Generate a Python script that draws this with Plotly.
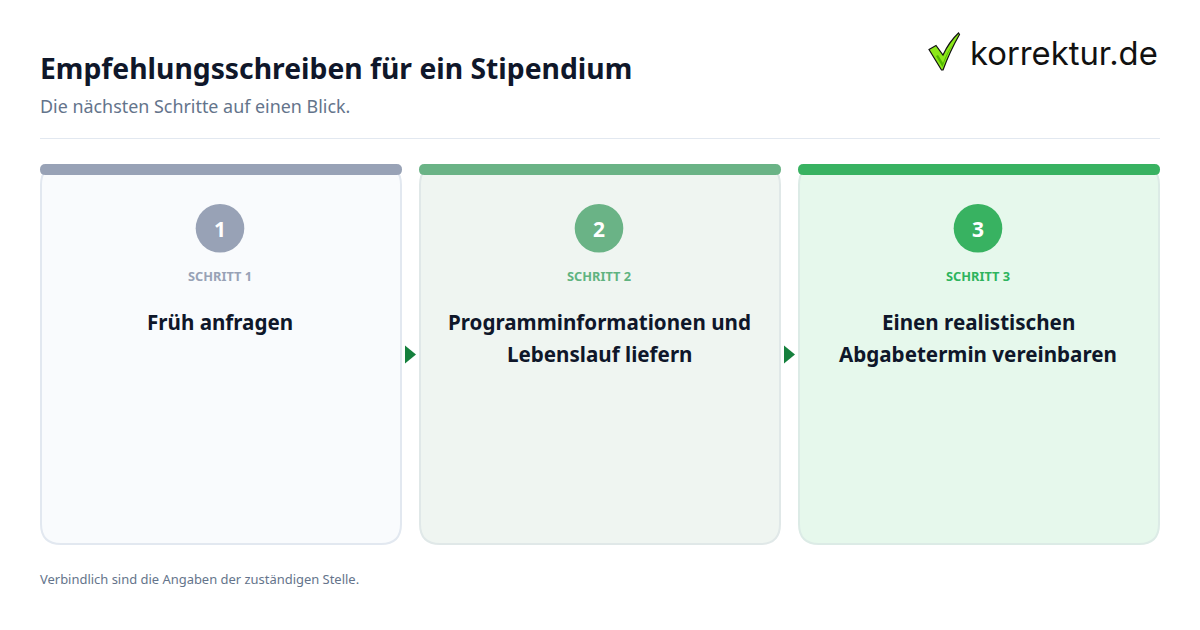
import plotly.graph_objects as go

TITLE = "Empfehlungsschreiben für ein Stipendium"
SUBTITLE = "Die nächsten Schritte auf einen Blick."
FOOTNOTE = "Verbindlich sind die Angaben der zuständigen Stelle."
LOGO = "korrektur.de"
numbers = ["1", "2", "3"]
kickers = ["SCHRITT 1", "SCHRITT 2", "SCHRITT 3"]
headings = [["Früh anfragen"],
            ["Programminformationen und", "Lebenslauf liefern"],
            ["Einen realistischen", "Abgabetermin vereinbaren"]]
accents = ["#98a2b6", "#6ab386", "#38b261"]
fills = ["#f9fbfd", "#eff5f1", "#e6f8ec"]
borders = ["#e2e8f0", "#e0e8e8", "#dcebe6"]
kicker_colors = ["#98a2b6", "#5fb380", "#2db45d"]
FONT = "Noto Sans"
INK = "#0f172a"
MUTED = "#64748b"

card_left = [40, 419, 798]
card_w, card_top, card_bot = 362, 164, 545


def rr(x0, y0, x1, y1, r):
    return (f"M{x0+r},{y0} L{x1-r},{y0} Q{x1},{y0} {x1},{y0+r} L{x1},{y1-r} Q{x1},{y1} {x1-r},{y1} "
            f"L{x0+r},{y1} Q{x0},{y1} {x0},{y1-r} L{x0},{y0+r} Q{x0},{y0} {x0+r},{y0} Z")


shapes = []
ann = []


def text(x, y, s, size, color, bold=False, anchor="left"):
    ann.append(dict(x=x, y=y, text=f"<b>{s}</b>" if bold else s, showarrow=False, xref="x", yref="y",
                    xanchor=anchor, yanchor="middle", align=anchor,
                    font=dict(family=FONT, size=size, color=color)))


text(38, 68, TITLE, 28.3, INK, True)
text(38, 106, SUBTITLE, 17.9, MUTED)
text(38, 579, FOOTNOTE, 12.95, MUTED)
ann.append(dict(x=968, y=53, text=LOGO, showarrow=False, xref="x", yref="y", xanchor="left", yanchor="middle",
                font=dict(family="Inter", size=32.8, color="#111111")))
shapes.append(dict(type="line", x0=40, x1=1160, y0=138.5, y1=138.5, line=dict(color="#e2e8f0", width=1)))

# check mark of the logo
shapes.append(dict(type="path", path="M929,49.5 L936,45.5 L943,55 Q949,42 958.5,33 L959.5,34.5 Q950,51 943,70 L941.5,70 Z",
                   fillcolor="#8ce81a", line=dict(color="#111111", width=1.2)))
shapes.append(dict(type="path", path="M936,56 L938,55 L943,63 Q947,52 953,44 Q947,54 942.5,67 Z",
                   fillcolor="#4fb800", line=dict(width=0)))

for i, left in enumerate(card_left):
    right = left + card_w
    cx = left + card_w / 2 - 1
    shapes.append(dict(type="path", path=rr(left + 1, card_top + 1, right - 1, card_bot - 1, 20),
                       fillcolor=fills[i], line=dict(color=borders[i], width=2)))
    shapes.append(dict(type="path", path=rr(left, card_top, right, card_top + 11, 5.5),
                       fillcolor=accents[i], line=dict(width=0)))
    shapes.append(dict(type="circle", x0=cx - 24.3, x1=cx + 24.3, y0=204, y1=252.6,
                       fillcolor=accents[i], line=dict(width=0)))
    text(cx - 0.5, 228.5, numbers[i], 21, "#ffffff", True, "center")
    text(cx, 275.5, kickers[i], 12.8, kicker_colors[i], True, "center")
    for j, line in enumerate(headings[i]):
        text(cx, 322 + j * 31.5, line, 20.6, INK, True, "center")
    if i < 2:
        shapes.append(dict(type="path", path=f"M{right+3},345.5 L{right+14},354.5 L{right+3},363.5 Z",
                           fillcolor="#15803d", line=dict(width=0)))

fig = go.Figure()
fig.update_layout(width=1200, height=630, margin=dict(l=0, r=0, t=0, b=0),
                  paper_bgcolor="#ffffff", plot_bgcolor="#ffffff", showlegend=False,
                  xaxis=dict(range=[0, 1200], visible=False, fixedrange=True),
                  yaxis=dict(range=[630, 0], visible=False, fixedrange=True),
                  shapes=shapes, annotations=ann)
fig.write_html("out.html", config=dict(displayModeBar=False),
               post_script="document.body.style.margin='0';document.body.style.overflow='hidden';")
